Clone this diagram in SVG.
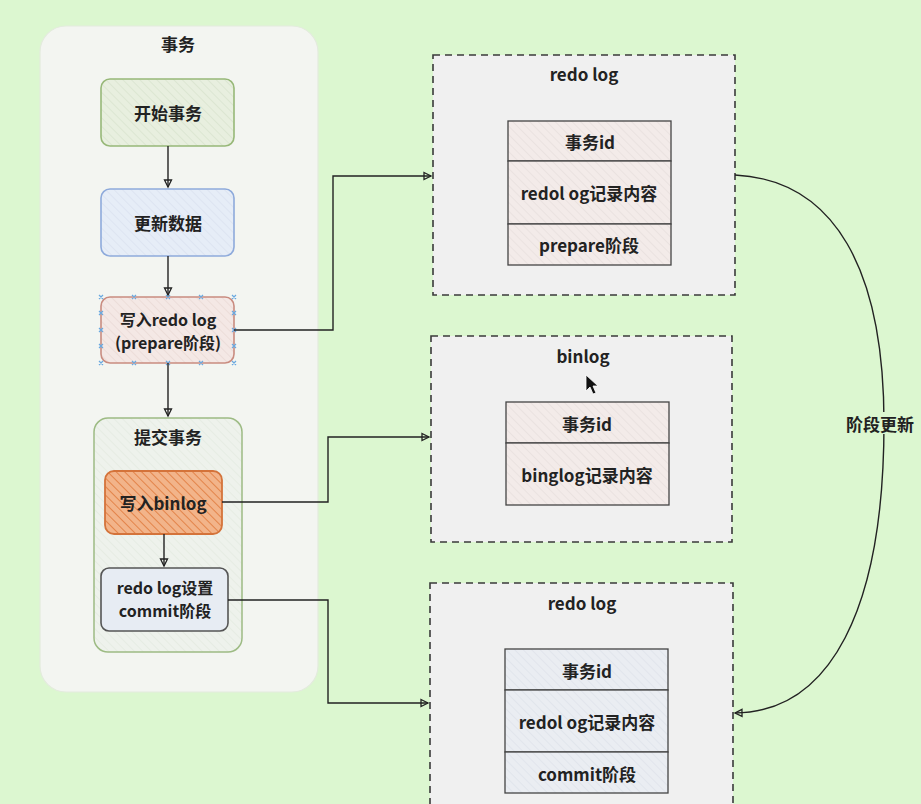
<svg xmlns="http://www.w3.org/2000/svg" width="921" height="804" viewBox="0 0 921 804">
<style>
text{font-family:"Noto Sans CJK SC","Noto Sans",sans-serif;font-weight:bold;font-size:17px;fill:#222;text-anchor:middle;dominant-baseline:central}
.two{font-size:16px}
.dash{fill:#f0f0f0;stroke:#3a3a3a;stroke-width:1.6;stroke-dasharray:7,5}
.conn{fill:none;stroke:#222;stroke-width:1.4}
.cell{stroke:#444;stroke-width:1.3}
.sel{stroke:#6aa9e0;stroke-width:1.2}
</style>
<defs>
<pattern id="hG" width="6" height="6" patternUnits="userSpaceOnUse" patternTransform="rotate(-45)"><rect width="6" height="6" fill="#e8efdf"/><line x1="0" y1="0" x2="0" y2="6" stroke="#d9e4ce" stroke-width="1.5"/></pattern>
<pattern id="hB" width="6" height="6" patternUnits="userSpaceOnUse" patternTransform="rotate(-45)"><rect width="6" height="6" fill="#e6edf7"/><line x1="0" y1="0" x2="0" y2="6" stroke="#dae2ef" stroke-width="1.5"/></pattern>
<pattern id="hR" width="6" height="6" patternUnits="userSpaceOnUse" patternTransform="rotate(-45)"><rect width="6" height="6" fill="#f4e8e5"/><line x1="0" y1="0" x2="0" y2="6" stroke="#eadad6" stroke-width="1.5"/></pattern>
<pattern id="hO" width="6" height="6" patternUnits="userSpaceOnUse" patternTransform="rotate(-45)"><rect width="6" height="6" fill="#f2b48a"/><line x1="0" y1="0" x2="0" y2="6" stroke="#e3844a" stroke-width="2"/></pattern>
<pattern id="hC" width="6" height="6" patternUnits="userSpaceOnUse" patternTransform="rotate(-45)"><rect width="6" height="6" fill="#eef2ec"/><line x1="0" y1="0" x2="0" y2="6" stroke="#e4eae0" stroke-width="1.5"/></pattern>
<pattern id="hT" width="6" height="6" patternUnits="userSpaceOnUse" patternTransform="rotate(-45)"><rect width="6" height="6" fill="#f3ebe9"/><line x1="0" y1="0" x2="0" y2="6" stroke="#e8dfdd" stroke-width="1.5"/></pattern>
<pattern id="hS" width="6" height="6" patternUnits="userSpaceOnUse" patternTransform="rotate(-45)"><rect width="6" height="6" fill="#eaedf2"/><line x1="0" y1="0" x2="0" y2="6" stroke="#dfe3ea" stroke-width="1.5"/></pattern>
<marker id="arr" markerWidth="10" markerHeight="10" refX="8" refY="5" orient="auto" markerUnits="userSpaceOnUse">
<path d="M1,1.5 L8,5 L1,8.5 Z" fill="none" stroke="#222" stroke-width="1.3"/>
</marker>
</defs>
<rect width="921" height="804" fill="#dcf7d0"/>

<g id="container-tx">
<rect x="40" y="26" width="278" height="666" rx="26" fill="#f3f5f1" stroke="#e3ebdd" stroke-width="1.2"/>
<text x="178" y="43">事务</text>
</g>

<g id="node-start">
<rect x="101" y="79" width="133" height="67" rx="9" fill="url(#hG)" stroke="#97b878" stroke-width="1.6"/>
<text x="168" y="112">开始事务</text>
</g>

<g id="node-update">
<rect x="101" y="189" width="133" height="67" rx="9" fill="url(#hB)" stroke="#8eaadb" stroke-width="1.6"/>
<text x="168" y="222">更新数据</text>
</g>

<g id="node-redo-prepare">
<rect x="101" y="297" width="133" height="66" rx="9" fill="url(#hR)" stroke="#c98c80" stroke-width="1.6"/>
<text class="two" x="168" y="319"><tspan x="168" y="319">写入redo log</tspan><tspan x="168" y="342">(prepare阶段)</tspan></text>
<g class="sel">
<path d="M99,295 l4,4 m0,-4 l-4,4 M132,295 l4,4 m0,-4 l-4,4 M166,295 l4,4 m0,-4 l-4,4 M199,295 l4,4 m0,-4 l-4,4 M232,295 l4,4 m0,-4 l-4,4"/>
<path d="M99,361 l4,4 m0,-4 l-4,4 M132,361 l4,4 m0,-4 l-4,4 M166,361 l4,4 m0,-4 l-4,4 M199,361 l4,4 m0,-4 l-4,4 M232,361 l4,4 m0,-4 l-4,4"/>
<path d="M99,311 l4,4 m0,-4 l-4,4 M99,328 l4,4 m0,-4 l-4,4 M99,344 l4,4 m0,-4 l-4,4 M232,311 l4,4 m0,-4 l-4,4 M232,328 l4,4 m0,-4 l-4,4 M232,344 l4,4 m0,-4 l-4,4"/>
</g>
</g>

<g id="group-commit">
<rect x="94" y="418" width="148" height="234" rx="14" fill="url(#hC)" stroke="#9dbb84" stroke-width="1.5"/>
<text x="168" y="436">提交事务</text>
</g>

<g id="node-binlog-write">
<rect x="105" y="471" width="117" height="63" rx="9" fill="url(#hO)" stroke="#d4733a" stroke-width="1.8"/>
<text x="163" y="502">写入binlog</text>
</g>

<g id="node-redo-commit">
<rect x="101" y="568" width="127" height="63" rx="8" fill="#e7ecf3" stroke="#555" stroke-width="1.6"/>
<text class="two" x="165" y="587"><tspan x="165" y="587">redo log设置</tspan><tspan x="165" y="610">commit阶段</tspan></text>
</g>

<g id="box-redo-top">
<rect class="dash" x="433" y="55" width="302" height="240"/>
<text x="584" y="73">redo log</text>
<rect class="cell" x="508" y="121" width="163" height="40" fill="url(#hT)"/>
<rect class="cell" x="508" y="161" width="163" height="63" fill="url(#hT)"/>
<rect class="cell" x="508" y="224" width="163" height="41" fill="url(#hT)"/>
<text x="590" y="141">事务id</text>
<text x="589" y="192">redol og记录内容</text>
<text x="589" y="244">prepare阶段</text>
</g>

<g id="box-binlog">
<rect class="dash" x="431" y="336" width="301" height="206"/>
<text x="583" y="355">binlog</text>
<rect class="cell" x="506" y="402" width="163" height="41" fill="url(#hT)"/>
<rect class="cell" x="506" y="443" width="163" height="62" fill="url(#hT)"/>
<text x="587" y="423">事务id</text>
<text x="587" y="474">binglog记录内容</text>
<path d="M586,375 L586,391 L590,387 L593,394 L596,393 L593,386 L598,386 Z" fill="#111" stroke="#fff" stroke-width="0.8"/>
</g>

<g id="box-redo-bottom">
<rect class="dash" x="430" y="583" width="303" height="240"/>
<text x="582" y="602">redo log</text>
<rect class="cell" x="505" y="649" width="163" height="41" fill="url(#hS)"/>
<rect class="cell" x="505" y="690" width="163" height="62" fill="url(#hS)"/>
<rect class="cell" x="505" y="752" width="163" height="41" fill="url(#hS)"/>
<text x="587" y="670">事务id</text>
<text x="587" y="721">redol og记录内容</text>
<text x="587" y="773">commit阶段</text>
</g>

<g id="connectors">
<path class="conn" d="M168,146 L168,187" marker-end="url(#arr)"/>
<path class="conn" d="M168,256 L168,295" marker-end="url(#arr)"/>
<path class="conn" d="M168,363 L168,416" marker-end="url(#arr)"/>
<path class="conn" d="M164,534 L164,566" marker-end="url(#arr)"/>
<path class="conn" d="M234,330 L333,330 L333,176 L431,176" marker-end="url(#arr)"/>
<path class="conn" d="M222,502 L328,502 L328,437 L429,437" marker-end="url(#arr)"/>
<path class="conn" d="M228,600 L328,600 L328,703 L428,703" marker-end="url(#arr)"/>
<path class="conn" d="M735,175 C835,180 884,270 884,423 C884,610 830,712 735,713" marker-end="url(#arr)"/>
<rect x="842" y="412" width="78" height="22" fill="#dcf7d0"/>
<text x="880" y="423">阶段更新</text>
</g>
</svg>
